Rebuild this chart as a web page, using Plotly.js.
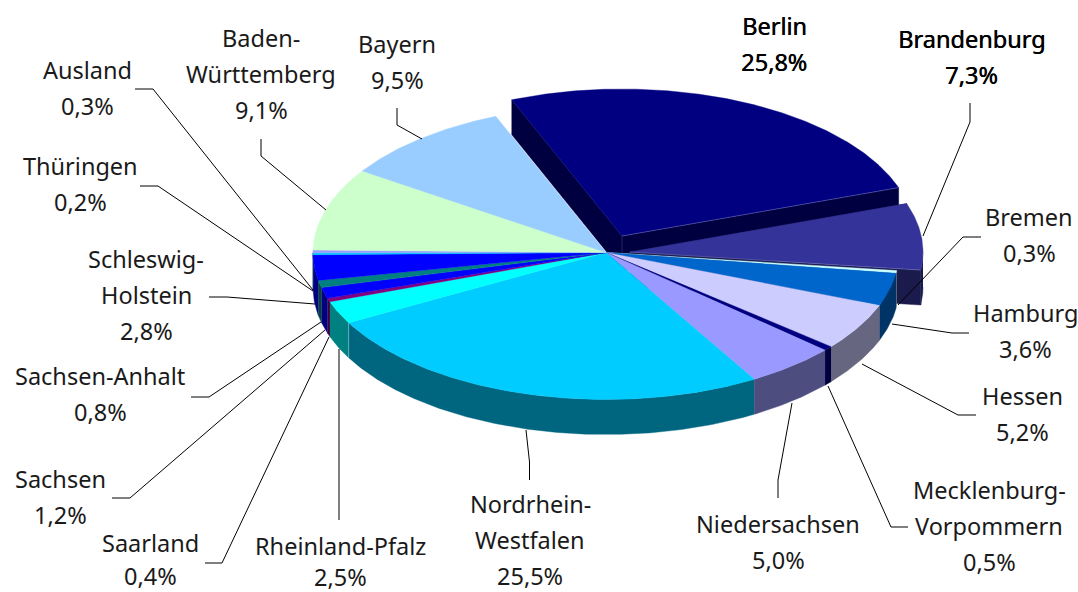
<!DOCTYPE html>
<html><head><meta charset="utf-8">
<script src="https://cdn.plot.ly/plotly-3.0.1.min.js"></script>
<style>html,body{margin:0;padding:0;background:#fff}#chart{width:1078px;height:592px}</style>
</head><body><div id="chart"></div>
<script>
// ---- data ----
const states = ["Berlin","Brandenburg","Bremen","Hamburg","Hessen","Mecklenburg-Vorpommern","Niedersachsen","Nordrhein-Westfalen","Rheinland-Pfalz","Saarland","Sachsen","Sachsen-Anhalt","Schleswig-Holstein","Thüringen","Ausland","Baden-Württemberg","Bayern"];
const shares = [25.8,7.3,0.3,3.6,5.2,0.5,5.0,25.5,2.5,0.4,1.2,0.8,2.8,0.2,0.3,9.1,9.5];
const shareLabels = ["25,8%","7,3%","0,3%","3,6%","5,2%","0,5%","5,0%","25,5%","2,5%","0,4%","1,2%","0,8%","2,8%","0,2%","0,3%","9,1%","9,5%"];
const nameLines = [["Berlin"],["Brandenburg"],["Bremen"],["Hamburg"],["Hessen"],["Mecklenburg-","Vorpommern"],["Niedersachsen"],["Nordrhein-","Westfalen"],["Rheinland-Pfalz"],["Saarland"],["Sachsen"],["Sachsen-Anhalt"],["Schleswig-","Holstein"],["Thüringen"],["Ausland"],["Baden-","Württemberg"],["Bayern"]];

// ---- styles ----
const topColors = ["#000080","#333399","#CCFFFF","#0066CC","#CCCCFF","#000080","#9999FF","#00CCFF","#00FFFF","#800080","#0000FF","#008080","#0000FF","#00CCFF","#9999FF","#CCFFCC","#99CCFF"];
const sideColors = ["#000040","#1A1A4D","#668080","#003366","#666680","#000040","#4D4D80","#006680","#008080","#400040","#000080","#004040","#000080","#006680","#4D4D80","#668066","#4D6680"];

// ---- drawing geometry ----
const pie = {cx:606, cy:252.5, rx:293, ry:147, depth:35, start:112.1};
const explode = {0:[16,-16.5], 1:[24,-0.5]};   // pulled-out slices: offset of the tip
const labelX = [774,971,1029,1025,1022,989,778,530,340,150,60,100,146,80,87,261,397];
const labelY = [26,39,217,313,396,490,524,504,546,543,479,376,259,166,70,38,44];
const lineGap = [36,36,36,36,36,36,36,36,31,33,36,36,36,36,36,36,36];
const leaders = {
  1:[[970,103],[970,122],[923,236]],
  2:[[981,237],[963,237],[898,305]],
  3:[[969,333],[952,333],[892,324]],
  4:[[976,415],[958,415],[862,364]],
  5:[[908,527],[891,527],[828,386]],
  6:[[778,498],[778,480],[792,403]],
  7:[[529.5,480],[529.5,462],[526,430]],
  8:[[339,520],[339,349]],
  9:[[205,563],[222,563],[329,337]],
  10:[[112,498],[130,498],[325,330]],
  11:[[191,397],[209,397],[321,322]],
  12:[[209,297],[227,297],[315,304]],
  13:[[140,186],[158,186],[313,291]],
  14:[[135,89],[153,89],[313,290]],
  15:[[261,139],[261,156],[326,210]],
  16:[[397,108],[397,125],[422,139]]
};

// ---- slice angles come from the values ----
const total = shares.reduce((a,b)=>a+b,0);
let run = pie.start;
const slices = shares.map((v,i)=>{
  const a0 = run, a1 = run - v/total*360; run = a1;
  const off = explode[i] || [0,0];
  return {i, a0, a1, cx:pie.cx+off[0], cy:pie.cy+off[1]};
});
const pt = (s,deg,dz=0)=>{const r=deg*Math.PI/180;return [s.cx+pie.rx*Math.cos(r), s.cy-pie.ry*Math.sin(r)+dz];};
function arc(s,a0,a1,dz=0){
  const n=Math.max(2,Math.ceil(Math.abs(a0-a1)*2)),o=[];
  for(let k=0;k<=n;k++) o.push(pt(s,a0+(a1-a0)*k/n,dz));
  return o;
}
function poly(points,color,i){
  return {type:"scatter",mode:"lines",x:points.map(p=>p[0]),y:points.map(p=>p[1]),fill:"toself",fillcolor:color,
    line:{color:color,width:0.4},name:states[i],text:states[i]+" "+shareLabels[i],hoverinfo:"text",showlegend:false,hoveron:"fills"};
}
function edge(points,color){
  return {type:"scatter",mode:"lines",x:points.map(p=>p[0]),y:points.map(p=>p[1]),line:{color:color,width:0.7},hoverinfo:"skip",showlegend:false};
}
function topFace(s){return poly([[s.cx,s.cy],...arc(s,s.a0,s.a1),[s.cx,s.cy]],topColors[s.i],s.i);}
function outerWall(s){
  // only the front half of the rim faces the viewer
  const hi=Math.min(s.a0,0), lo=Math.max(s.a1,-180);
  if(hi<=lo) return null;
  return poly([...arc(s,hi,lo),...arc(s,lo,hi,pie.depth)],sideColors[s.i],s.i);
}
function radialWall(s,a){
  const p=pt(s,a);
  return poly([[s.cx,s.cy],p,[p[0],p[1]+pie.depth],[s.cx,s.cy+pie.depth],[s.cx,s.cy]],sideColors[s.i],s.i);
}
const traces=[];
// pulled-out slices first, the rest of the pie paints over them
[slices[0],slices[1]].forEach(s=>{
  traces.push(radialWall(s,s.a0));
  traces.push(radialWall(s,s.a1));
  const w=outerWall(s); if(w) traces.push(w);
  traces.push(topFace(s));
  const e=pt(s,s.a1);
  traces.push(edge([[s.cx,s.cy],e],"rgba(150,150,210,0.55)"));
  traces.push(edge([[s.cx,s.cy],[s.cx,s.cy+pie.depth]],"rgba(150,150,210,0.35)"));
});
const body=slices.slice(2);
body.forEach(s=>{const w=outerWall(s); if(w) traces.push(w);});
body.forEach(s=>traces.push(topFace(s)));
// light seam between the Rheinland-Pfalz and Nordrhein-Westfalen rims
{const s=slices[7],p=pt(s,s.a1);traces.push(edge([p,[p[0],p[1]+pie.depth]],"rgba(190,225,235,0.6)"));}
// leader lines
Object.keys(leaders).forEach(k=>{
  const l=leaders[k];
  traces.push({type:"scatter",mode:"lines",x:l.map(p=>p[0]),y:l.map(p=>p[1]),line:{color:"#000000",width:1},hoverinfo:"skip",showlegend:false});
});

// labels
const FONT='"Noto Sans", sans-serif';
const annotations=[];
states.forEach((st,i)=>{
  const lines=[...nameLines[i],shareLabels[i]];
  lines.forEach((t,k)=>annotations.push({xref:"x",yref:"y",x:labelX[i],y:labelY[i]+k*lineGap[i],text:t,showarrow:false,xanchor:"center",yanchor:"middle",
    font:{family:FONT,size:23.5,color:i<2?"#000000":"#1a1a1a",shadow:i<2?"0.5px 0 0 #000":"none"}}));
});

Plotly.newPlot("chart",traces,{
  width:1078,height:592,margin:{l:0,r:0,t:0,b:0},paper_bgcolor:"#fff",plot_bgcolor:"#fff",showlegend:false,
  xaxis:{range:[0,1078],visible:false,fixedrange:true},
  yaxis:{range:[592,0],visible:false,fixedrange:true},
  annotations
},{displayModeBar:false});
</script></body></html>
